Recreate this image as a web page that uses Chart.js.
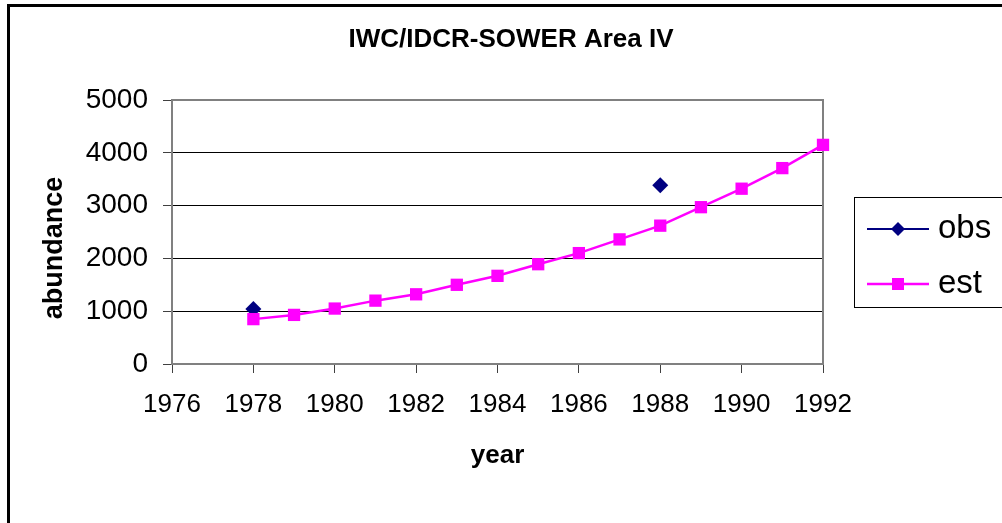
<!DOCTYPE html>
<html>
<head>
<meta charset="utf-8">
<script src="https://cdn.jsdelivr.net/npm/chart.js@4/dist/chart.umd.min.js"></script>
<style>
  body { margin: 0; background: #fff; }
  #wrap { width: 1002px; height: 523px; }
</style>
</head>
<body>
<div id="wrap"><canvas id="chart" width="1002" height="523"></canvas></div>
<script>
const obsYears = [1978, 1988];
const obsValues = [1040, 3384];

const estYears = [1978, 1979, 1980, 1981, 1982, 1983, 1984, 1985, 1986, 1987, 1988, 1989, 1990, 1991, 1992, 1993];
const estValues = [850, 930, 1050, 1200, 1320, 1500, 1670, 1890, 2100, 2360, 2620, 2970, 3320, 3710, 4150, 4660];

const seriesNames = ["obs", "est"];
const xTicks = [1976, 1978, 1980, 1982, 1984, 1986, 1988, 1990, 1992];
const yTicks = [0, 1000, 2000, 3000, 4000, 5000];

const chartTitle = "IWC/IDCR-SOWER Area IV";
const xTitle = "year";
const yTitle = "abundance";

const FONT = "'Liberation Sans', Arial, sans-serif";

const toPoints = (xs, ys) => xs.map((x, i) => ({ x: x, y: ys[i] }));

// outer frame, plot area border, titles
const framePlugin = {
  id: "frame",
  beforeDraw(chart) {
    const ctx = chart.ctx;
    ctx.save();
    ctx.fillStyle = "#fff";
    ctx.fillRect(0, 0, chart.width, chart.height);
    ctx.strokeStyle = "#000";
    ctx.lineWidth = 3;
    ctx.strokeRect(8.5, 5.5, 1200, 800);

    ctx.fillStyle = "#000";
    ctx.textAlign = "center";
    ctx.textBaseline = "middle";
    ctx.font = "bold 26px " + FONT;
    ctx.fillText(chartTitle, 511, 40);

    ctx.translate(55, 248);
    ctx.rotate(-Math.PI / 2);
    ctx.font = "bold 27px " + FONT;
    ctx.fillText(yTitle, 0, 0);
    ctx.restore();
  },
  beforeDatasetsDraw(chart) {
    const a = chart.chartArea;
    const ctx = chart.ctx;
    ctx.save();
    ctx.strokeStyle = "#808080";
    ctx.lineWidth = 2;
    ctx.beginPath();
    ctx.moveTo(a.left, a.top);
    ctx.lineTo(a.right, a.top);
    ctx.lineTo(a.right, a.bottom);
    ctx.stroke();
    ctx.restore();
  }
};

// legend box on the right, like the spreadsheet one
const legendPlugin = {
  id: "sideLegend",
  afterDraw(chart) {
    const ctx = chart.ctx;
    ctx.save();
    ctx.strokeStyle = "#000";
    ctx.lineWidth = 1;
    ctx.strokeRect(854.5, 197.5, 300, 110);
    const rows = [229, 284];
    chart.data.datasets.forEach((ds) => {
      const idx = seriesNames.indexOf(ds.label);
      const y = rows[idx];
      ctx.strokeStyle = ds.borderColor;
      ctx.lineWidth = ds.borderWidth;
      ctx.beginPath();
      ctx.moveTo(867, y);
      ctx.lineTo(929, y);
      ctx.stroke();
      ctx.fillStyle = ds.backgroundColor;
      ctx.beginPath();
      if (ds.pointStyle === "rectRot") {
        const r = 7;
        ctx.moveTo(898 - r, y);
        ctx.lineTo(898, y - r);
        ctx.lineTo(898 + r, y);
        ctx.lineTo(898, y + r);
        ctx.closePath();
      } else {
        ctx.rect(898 - 6, y - 6, 12, 12);
      }
      ctx.fill();
      ctx.fillStyle = "#000";
      ctx.font = "33px " + FONT;
      ctx.textBaseline = "middle";
      ctx.fillText(ds.label, 938, y);
    });
    ctx.restore();
  }
};

const ctx = document.getElementById("chart").getContext("2d");

new Chart(ctx, {
  type: "line",
  data: {
    datasets: [
      {
        label: seriesNames[1],
        data: toPoints(estYears, estValues),
        borderColor: "#FF00FF",
        backgroundColor: "#FF00FF",
        borderWidth: 2.5,
        pointStyle: "rect",
        pointRadius: 8.7,
        pointBorderWidth: 0,
        tension: 0,
        order: 0,
        clip: { left: 10, top: 10, right: 9, bottom: 10 }
      },
      {
        label: seriesNames[0],
        data: toPoints(obsYears, obsValues),
        borderColor: "#000080",
        backgroundColor: "#000080",
        borderWidth: 2,
        pointStyle: "rectRot",
        pointRadius: 8,
        pointBorderWidth: 0,
        showLine: false,
        order: 1,
        clip: 10
      }
    ]
  },
  options: {
    responsive: false,
    animation: false,
    layout: { padding: { left: 0, top: 100, right: 179, bottom: 0 } },
    plugins: {
      legend: { display: false },
      tooltip: { enabled: false },
      title: { display: false }
    },
    scales: {
      x: {
        type: "linear",
        min: xTicks[0],
        max: xTicks[xTicks.length - 1],
        afterBuildTicks: (scale) => { scale.ticks = xTicks.map((v) => ({ value: v })); },
        afterFit: (scale) => { scale.height = 159; },
        ticks: {
          color: "#000",
          font: { family: FONT, size: 26 },
          padding: 16,
          maxRotation: 0,
          autoSkip: false,
          callback: (v) => String(v)
        },
        grid: { drawOnChartArea: false, drawTicks: true, tickLength: 9, tickColor: "#404040", tickWidth: 1 },
        border: { color: "#808080", width: 2 },
        title: {
          display: true,
          text: xTitle,
          color: "#000",
          font: { family: FONT, size: 26, weight: "bold" },
          padding: { top: 0, bottom: 52 }
        }
      },
      y: {
        min: yTicks[0],
        max: yTicks[yTicks.length - 1],
        afterBuildTicks: (scale) => { scale.ticks = yTicks.map((v) => ({ value: v })); },
        afterFit: (scale) => { scale.width = 172; },
        ticks: {
          color: "#000",
          font: { family: FONT, size: 28 },
          padding: 15,
          callback: (v) => String(v)
        },
        grid: { color: "#000", lineWidth: 1, drawTicks: true, tickLength: 9, tickColor: "#404040" },
        border: { color: "#808080", width: 2 }
      }
    }
  },
  plugins: [framePlugin, legendPlugin]
});
</script>
</body>
</html>
